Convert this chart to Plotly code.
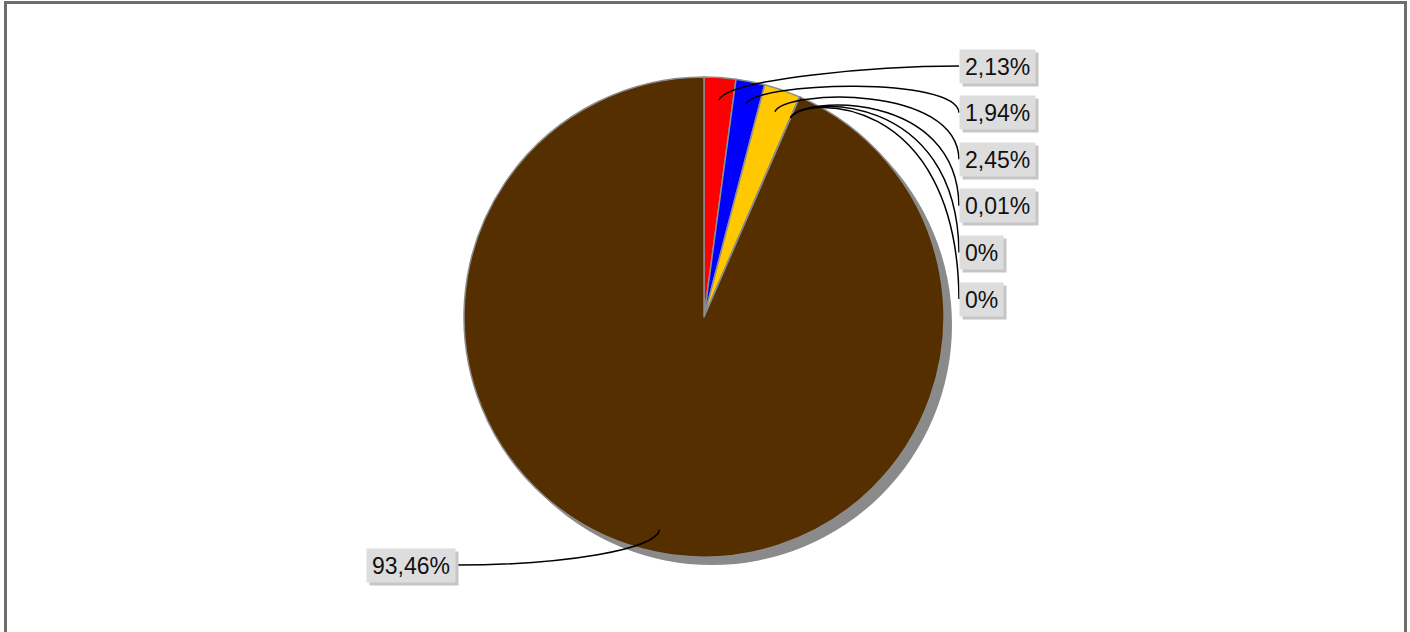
import math
import plotly.graph_objects as go

# ---- data ----
categories = ["Categoria 1", "Categoria 2", "Categoria 3", "Categoria 4",
              "Categoria 5", "Categoria 6", "Categoria 7"]
values = [2.13, 1.94, 2.45, 0.01, 0, 0, 93.46]
slice_colors = ["#ff0000", "#0000ff", "#ffc800", "#00a000", "#00c0c0", "#c000c0", "#552f00"]
label_texts = [f"{v:g}".replace(".", ",") + "%" for v in values]

# ---- layout geometry (pixels) ----
W, H = 1410, 632
cx, cy, R = 704, 317, 240
shadow_off = 8
FS = 23
char_w = {"%": 0.889, ",": 0.278}

def text_width(s):
    return sum(char_w.get(c, 0.556) for c in s) * FS

def dom(x0, x1, y0, y1):
    return dict(x=[x0 / W, x1 / W], y=[(H - y1) / H, (H - y0) / H])

fig = go.Figure()

# shadow disc
fig.add_trace(go.Pie(
    values=[1], labels=["shadow"], marker=dict(colors=["#8a8a8a"], line=dict(width=0)),
    textinfo="none", hoverinfo="skip", sort=False, showlegend=False,
    domain=dom(cx - R + shadow_off, cx + R + shadow_off, cy - R + shadow_off, cy + R + shadow_off),
))

# main pie
fig.add_trace(go.Pie(
    values=values, labels=categories, marker=dict(colors=slice_colors, line=dict(color="#8c8c8c", width=1.5)),
    textinfo="none", sort=False, direction="clockwise", rotation=0, showlegend=False,
    domain=dom(cx - R, cx + R, cy - R, cy + R),
))

total = sum(values)
shapes = []
annotations = []
font = dict(family="Liberation Sans, Arial, sans-serif", size=FS, color="#111111")

cum = 0.0
right_i = 0
for v, txt in zip(values, label_texts):
    mid = (cum + v / 2) / total
    cum += v
    ang = 2 * math.pi * mid
    r = 0.905 * R
    px = cx + r * math.sin(ang)
    py = cy - r * math.cos(ang)
    if mid < 0.5:
        lx = 959
        ly = 66 + right_i * 46.6
        right_i += 1
        p1 = (px + 10, py - 22)
        if ly < py - 20:
            p2 = (lx - 80, ly)
        else:
            p2 = (lx - 2, py - 28)
        xa = "left"
    else:
        lx = 456
        ly = 565
        p1 = (px - 4, py + 20)
        p2 = (lx + 110, ly)
        xa = "right"
    path = f"M {px:.1f},{py:.1f} C {p1[0]:.1f},{p1[1]:.1f} {p2[0]:.1f},{p2[1]:.1f} {lx:.1f},{ly:.1f}"
    shapes.append(dict(type="path", path=path, xref="x", yref="y",
                       line=dict(color="#000000", width=1.5), layer="above"))
    bw = text_width(txt) + 4
    bh = 27
    # box shadow
    annotations.append(dict(x=lx + 3, y=ly + 3, xref="x", yref="y", text=" ", showarrow=False,
                            xanchor=xa, yanchor="middle", bgcolor="#c6c6c6", borderpad=3,
                            width=bw, height=bh, font=dict(size=FS)))
    annotations.append(dict(x=lx, y=ly, xref="x", yref="y", text=txt, showarrow=False,
                            xanchor=xa, yanchor="middle", bgcolor="#dddddd", borderpad=3,
                            width=bw, height=bh, align="center", font=font))

# outer frame
shapes.append(dict(type="rect", xref="x", yref="y", x0=5.5, x1=1405.5, y0=2.5, y1=660,
                   line=dict(color="#6e6e6e", width=3), fillcolor="rgba(0,0,0,0)", layer="above"))

fig.update_layout(
    width=W, height=H, margin=dict(l=0, r=0, t=0, b=0),
    paper_bgcolor="white", plot_bgcolor="rgba(0,0,0,0)",
    xaxis=dict(range=[0, W], visible=False, fixedrange=True, domain=[0, 1]),
    yaxis=dict(range=[H, 0], visible=False, fixedrange=True, domain=[0, 1]),
    shapes=shapes, annotations=annotations, showlegend=False,
)

fig.write_html("out.html", config={"displayModeBar": False},
               post_script="document.body.style.margin='0';document.body.style.overflow='hidden';")
